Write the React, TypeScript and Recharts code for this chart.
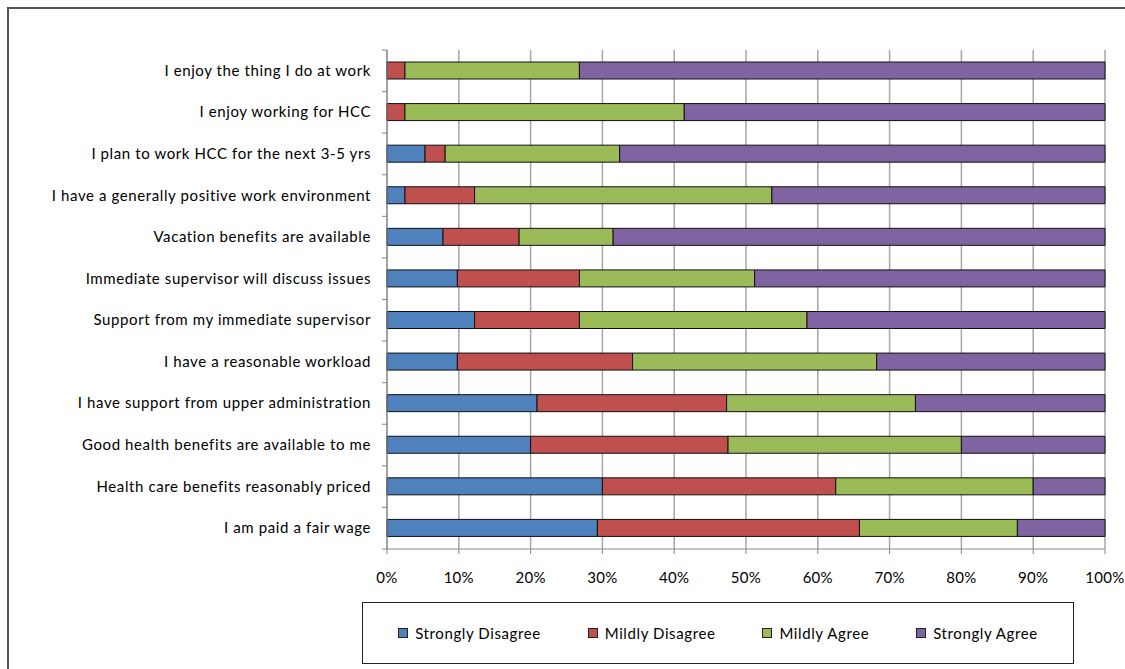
import { BarChart, Bar, XAxis, YAxis, CartesianGrid } from 'recharts'

const questions = [
  'I enjoy the thing I do at work',
  'I enjoy working for HCC',
  'I plan to work HCC for the next 3-5 yrs',
  'I have a generally positive work environment',
  'Vacation benefits are available',
  'Immediate supervisor will discuss issues',
  'Support from my immediate supervisor',
  'I have a reasonable workload',
  'I have support from upper administration',
  'Good health benefits are available to me',
  'Health care benefits reasonably priced',
  'I am paid a fair wage',
]

// share of responses, in percent
const stronglyDisagree = [0, 0, 5.3, 2.5, 7.8, 9.8, 12.2, 9.8, 20.9, 20.0, 30.0, 29.3]
const mildlyDisagree = [2.5, 2.5, 2.8, 9.7, 10.6, 17.0, 14.6, 24.4, 26.4, 27.5, 32.5, 36.5]
const mildlyAgree = [24.3, 38.9, 24.3, 41.4, 13.1, 24.4, 31.7, 34.0, 26.3, 32.5, 27.5, 22.0]
const stronglyAgree = [73.2, 58.6, 67.6, 46.4, 68.5, 48.8, 41.5, 31.8, 26.4, 20.0, 10.0, 12.2]

const percentTicks = [0, 10, 20, 30, 40, 50, 60, 70, 80, 90, 100]

const series = [
  { key: 'sd', name: 'Strongly Disagree', color: '#4F81BD' },
  { key: 'md', name: 'Mildly Disagree', color: '#C0504D' },
  { key: 'ma', name: 'Mildly Agree', color: '#9BBB59' },
  { key: 'sa', name: 'Strongly Agree', color: '#8064A2' },
]

const data = questions.map((question, i) => ({
  question,
  sd: stronglyDisagree[i],
  md: mildlyDisagree[i],
  ma: mildlyAgree[i],
  sa: stronglyAgree[i],
}))

const FONT = 'Lato, "Open Sans", sans-serif'
const FONT_SIZE = 15
const SPACING = 0.6
const AXIS_GRAY = '#868686'

// category label plus a tick mark on the boundary between categories
function QuestionTick(props: any) {
  const { x, y, payload, index } = props
  const half = payload.offset ?? 0
  return (
    <g>
      <line x1={x + 3} x2={x + 8} y1={y - half} y2={y - half} stroke={AXIS_GRAY} />
      {index === questions.length - 1 && (
        <line x1={x + 3} x2={x + 8} y1={y + half} y2={y + half} stroke={AXIS_GRAY} />
      )}
      <text
        x={x - 8}
        y={y}
        dy={5}
        textAnchor="end"
        fill="#000"
        fontSize={FONT_SIZE}
        fontFamily={FONT}
        letterSpacing={SPACING}
      >
        {payload.value}
      </text>
    </g>
  )
}

export default function App() {
  return (
    <div style={{ position: 'absolute', left: 0, top: 0, width: 1125, height: 669, overflow: 'hidden', background: '#fff' }}>
      <div
        style={{
          position: 'absolute', left: 7, top: 7, width: 1140, height: 700,
          border: '2px solid #555', boxSizing: 'border-box',
        }}
      />
      <BarChart
        width={1125}
        height={669}
        data={data}
        layout="vertical"
        barSize={17}
        margin={{ top: 50, right: 20, left: 10, bottom: 90 }}
        style={{ position: 'absolute', left: 0, top: 0 }}
      >
        <CartesianGrid horizontal={false} stroke="#a6a6a6" strokeWidth={1.5} />
        <XAxis
          type="number"
          domain={[0, 100]}
          ticks={percentTicks}
          tickFormatter={v => `${v}%`}
          stroke={AXIS_GRAY}
          tickSize={5}
          tick={{ fontSize: FONT_SIZE, fill: '#000', fontFamily: FONT, letterSpacing: 0.3 }}
          tickMargin={18}
          height={30}
          interval={0}
        />
        <YAxis
          type="category"
          dataKey="question"
          width={377}
          stroke={AXIS_GRAY}
          tickLine={false}
          tick={<QuestionTick />}
          interval={0}
        />
        {series.map(s => (
          <Bar
            key={s.key}
            dataKey={s.key}
            name={s.name}
            stackId="resp"
            fill={s.color}
            stroke="#111"
            strokeWidth={1}
            isAnimationActive={false}
          />
        ))}
      </BarChart>
      <div
        style={{
          position: 'absolute', left: 362, top: 602, width: 712, height: 62,
          border: '1px solid #222', boxSizing: 'border-box',
          display: 'flex', alignItems: 'center', justifyContent: 'center', gap: 47,
          fontFamily: FONT, fontSize: FONT_SIZE, letterSpacing: SPACING, color: '#000',
        }}
      >
        {series.map(s => (
          <div key={s.key} style={{ display: 'flex', alignItems: 'center', gap: 7 }}>
            <span style={{ width: 8, height: 8, background: s.color, border: '1px solid #222', display: 'inline-block' }} />
            <span>{s.name}</span>
          </div>
        ))}
      </div>
    </div>
  )
}
